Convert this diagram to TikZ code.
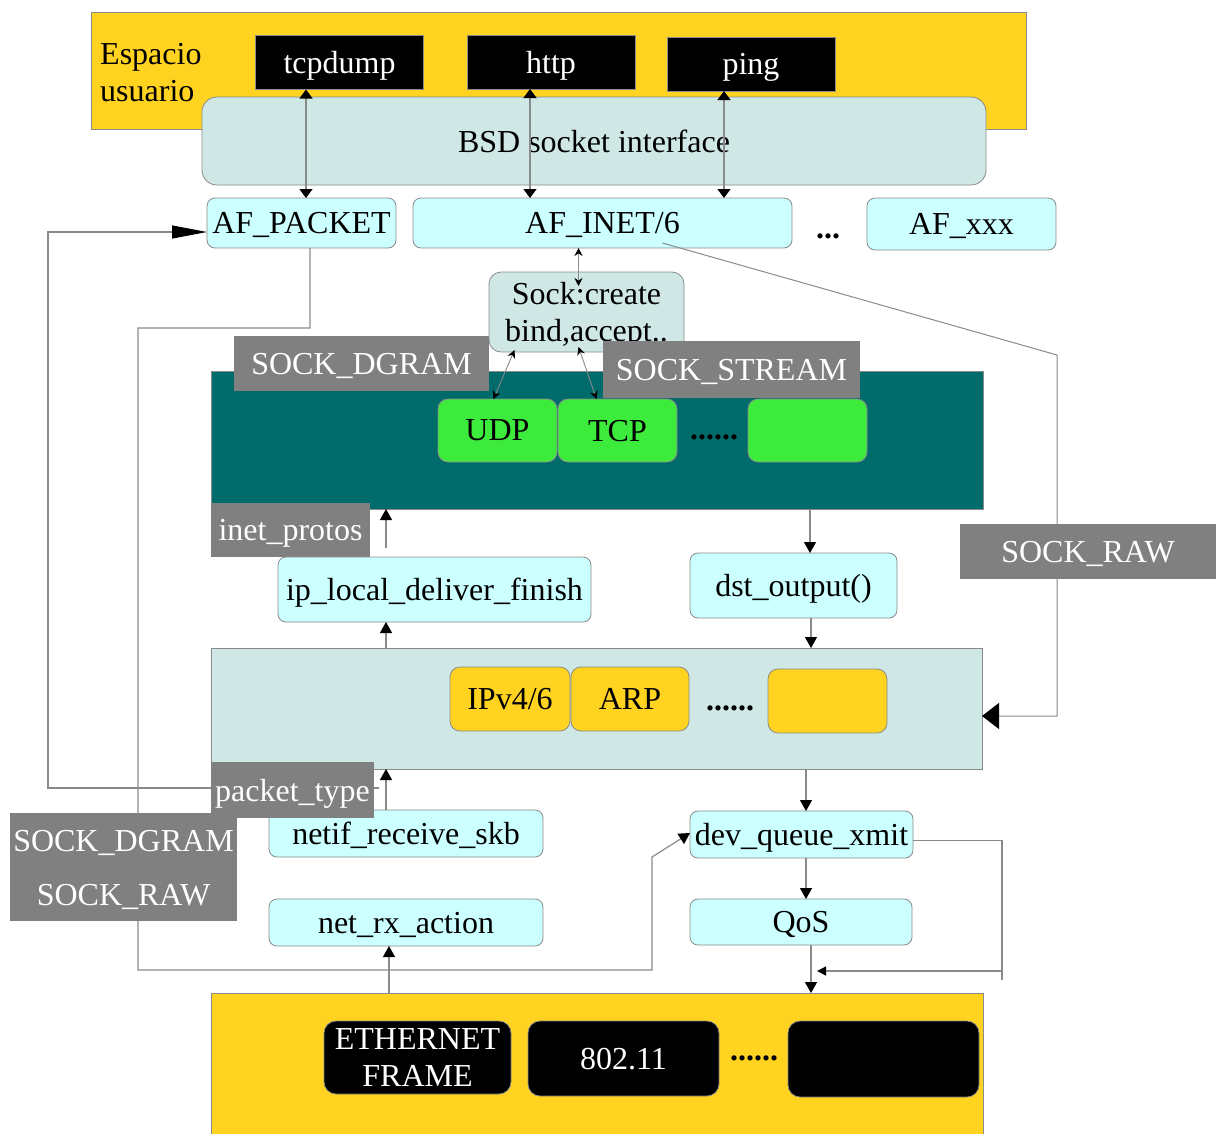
\documentclass[tikz,border=0pt]{standalone}
\usepackage{fontspec}
\setmainfont{Liberation Serif}
\usepackage{xcolor}
\usepackage{tikz}
\usetikzlibrary{calc,positioning,arrows.meta}
\definecolor{userbg}{HTML}{FFD320}
\definecolor{sockbg}{HTML}{CFE7E5}
\definecolor{callbg}{HTML}{CCFFFF}
\definecolor{protobg}{HTML}{006B6B}
\definecolor{transbg}{HTML}{3DEB3D}
\definecolor{tagbg}{HTML}{808080}
\definecolor{edge}{HTML}{8A8A8A}
\newcommand{\Txt}{\fontsize{32}{37}\selectfont}

\begin{document}
\begin{tikzpicture}[x=1pt,y=-1pt, font=\Txt,
    box/.style={draw=edge,line width=0.8pt,inner sep=0pt,outer sep=0pt,text depth=0pt},
    call/.style={box,fill=callbg,rounded corners=8pt},
    plane/.style={box,fill=sockbg},
    tag/.style={fill=tagbg,text=white,inner sep=0pt,outer sep=0pt,text depth=0pt},
    app/.style={box,fill=black,text=white,minimum width=168pt,minimum height=54pt},
    nic/.style={box,fill=black,text=white,rounded corners=12pt,align=center},
    proto/.style={box,rounded corners=10pt,minimum width=119pt,minimum height=63pt},
    wire/.style={draw=edge,line width=1.2pt},
    arr/.style={wire,-{Triangle[length=11pt,width=12pt,color=black]}},
    biarr/.style={wire,{Triangle[length=9pt,width=13pt,color=black]}-{Triangle[length=9pt,width=13pt,color=black]}},
    minarr/.style={wire,line width=0.9pt,{Stealth[length=8pt,width=8pt,color=black]}-{Stealth[length=8pt,width=8pt,color=black]}}]
  \useasboundingbox (0,0) rectangle (1216,1133);
  % USER SPACE
  \node[box,fill=userbg,minimum width=935pt,minimum height=117pt] (user) at (558.5,70.5) {};
  \node[anchor=west,align=left,inner sep=0pt] (usrtxt) at (100,72.5) {Espacio\\usuario};
  \foreach \n/\x/\y in {tcpdump/339.5/62.5, http/551/62, ping/751/64}
    \node[app] (\n) at (\x,\y) {\n};
  \node[plane,rounded corners=15pt,minimum width=784pt,minimum height=88pt] (bsd) at (594,141) {BSD socket interface};
  \node[call,minimum width=189pt,minimum height=50pt] (afpacket) at (301.5,223) {AF\_PACKET};
  \node[call,minimum width=379pt,minimum height=50pt] (afinet) at (602.5,223) {AF\_INET/6};
  \node[font=\Txt\bfseries] (afdots) at (828,236) {...};
  \node[call,minimum width=189pt,minimum height=52pt] (afxxx) at (961.5,224) {AF\_xxx};
  \draw[biarr] ([xshift=4.5pt]afpacket.north |- tcpdump.south) -- ([xshift=4.5pt]afpacket.north);
  \draw[biarr] ([xshift=-21pt]http.south) -- ([xshift=-21pt]http.south |- afinet.north);
  \draw[biarr] ([xshift=-27pt]ping.south) -- ([xshift=-27pt]ping.south |- afinet.north);
  % TRANSPORT
  \node[plane,rounded corners=12pt,minimum width=195pt,minimum height=80pt,align=center] (sock) at (586.5,312) {Sock:create\\bind,accept..};
  \node[box,fill=protobg,minimum width=772pt,minimum height=138pt] (inet) at (597,440) {};
  \node[tag,minimum width=255pt,minimum height=55pt] (dgram) at (361.5,363.5) {SOCK\_DGRAM};
  \node[tag,minimum width=257pt,minimum height=57pt] (stream) at (731.5,369.5) {SOCK\_STREAM};
  \node[proto,fill=transbg] (udp) at (497.5,430.5) {UDP};
  \node[proto,fill=transbg,right=1pt of udp] (tcp) {TCP};
  \node[font=\Txt\bfseries] (tdots) at (714,437) {......};
  \node[proto,fill=transbg] (tnew) at (807.5,430.5) {};
  \draw[minarr] ([xshift=-8pt]sock.north |- afinet.south) -- ([xshift=-8pt,yshift=-14pt]sock.north);
  \draw[minarr] ([xshift=-72pt,yshift=2pt]sock.south) -- ([xshift=-4pt]udp.north);
  \draw[minarr] ([xshift=-8pt,yshift=5pt]sock.south) -- ([xshift=-21pt]tcp.north);
  \node[tag,minimum width=159pt,minimum height=54pt] (protos) at (290.5,530) {inet\_protos};
  \node[call,minimum width=313pt,minimum height=65pt] (deliver) at (434.5,589.5) {ip\_local\_deliver\_finish};
  \node[call,minimum width=207pt,minimum height=65pt] (dstout) at (793.5,585.5) {dst\_output()};
  % IP LAYER
  \node[plane,minimum width=771pt,minimum height=121pt] (ip) at (596.5,708.5) {};
  \node[proto,fill=userbg,minimum width=120pt,minimum height=64pt] (ipv4) at (510,699) {IPv4/6};
  \node[proto,fill=userbg,minimum width=118pt,minimum height=64pt,right=1pt of ipv4] (arp) {ARP};
  \node[font=\Txt\bfseries] (ldots) at (730,708) {......};
  \node[proto,fill=userbg,minimum height=64pt] (lnew) at (827.5,701) {};
  \draw[arr] ([xshift=16.5pt]dstout.north |- inet.south) -- ([xshift=16.5pt]dstout.north);
  \draw[arr] ([xshift=17.5pt]dstout.south) -- ([xshift=17.5pt]dstout.south |- ip.north);
  \draw[arr] ([xshift=-48.5pt,yshift=9pt]deliver.north) -- ([xshift=-48.5pt]deliver.north |- inet.south);
  \draw[arr] ([xshift=-48.5pt]deliver.south |- ip.north) -- ([xshift=-48.5pt]deliver.south);
  % RAW PATH ON THE RIGHT
  \coordinate (rawtop) at (1057,355);
  \draw[wire,line width=1pt,-{Triangle[length=17pt,width=26pt,color=black]}] ([xshift=60pt,yshift=5pt]afinet.south) -- (rawtop) |- ([yshift=-7.5pt]ip.east);
  \node[tag,minimum width=256pt,minimum height=55pt] (rawr) at (1088,551.5) {SOCK\_RAW};
  % DEVICE
  \node[call,minimum width=274pt,minimum height=47pt] (netif) at (406,833.5) {netif\_receive\_skb};
  \node[call,minimum width=223pt,minimum height=47pt] (devq) at (801.5,834.5) {dev\_queue\_xmit};
  \node[call,minimum width=274pt,minimum height=47pt] (netrx) at (406,922.5) {net\_rx\_action};
  \node[call,minimum width=222pt,minimum height=46pt] (qos) at (801,922) {QoS};
  \node[box,fill=userbg,minimum width=772pt,minimum height=150pt] (phy) at (597,1068) {};
  \node[nic,minimum width=187pt,minimum height=73pt] (eth) at (417.5,1057.5) {ETHERNET\\FRAME};
  \node[nic,minimum width=191pt,minimum height=75pt] (wifi) at (623.5,1058.5) {802.11};
  \node[font=\Txt\bfseries] (pdots) at (754,1058) {......};
  \node[nic,minimum width=191pt,minimum height=76pt] (pnew) at (883.5,1059) {};
  \draw[arr] ([xshift=-20pt]netif.north) -- ([xshift=-20pt]netif.north |- ip.south);
  \draw[arr] ([xshift=4.5pt]devq.north |- ip.south) -- ([xshift=4.5pt]devq.north);
  \draw[arr] ([xshift=4.5pt]devq.south) -- ([xshift=4.5pt]devq.south |- qos.north);
  \draw[arr] ([xshift=10pt]qos.south) -- ([xshift=10pt]qos.south |- phy.north);
  \draw[arr] ([xshift=-17pt]netrx.south |- phy.north) -- ([xshift=-17pt]netrx.south);
  \coordinate (qtop) at (1002,980);
  \coordinate (qback) at (1002,971);
  \draw[wire] ([yshift=-6pt]devq.east) -| (qtop);
  \draw[wire,-{Triangle[length=9pt,width=9pt,color=black]}] (qback) -- ([xshift=16pt]qos.south |- qback);
  % LEFT LOOPS
  \coordinate (dgl) at (138,328);
  \coordinate (dgb) at (138,970);
  \coordinate (dgr) at (652,970);
  \coordinate (dgu) at (652,857);
  \draw[arr] ([xshift=8.5pt]afpacket.south) |- (dgl) -- (dgb) -- (dgr) -- (dgu) -- ([yshift=1.5pt]devq.west);
  \coordinate (ptl) at (48,788);
  \draw[wire,-{Triangle[length=35pt,width=13pt,color=black]}] (379,788) -- (ptl) |- ([yshift=-9pt]afpacket.west);
  \node[tag,minimum width=163pt,minimum height=56pt] (ptype) at (292.5,790) {packet\_type};
  \node[tag,minimum width=227pt,minimum height=55pt] (dgram2) at (123.5,840.5) {SOCK\_DGRAM};
  \node[tag,minimum width=227pt,minimum height=53pt,below=0pt of dgram2] (raw2) {SOCK\_RAW};
\end{tikzpicture}
\end{document}
